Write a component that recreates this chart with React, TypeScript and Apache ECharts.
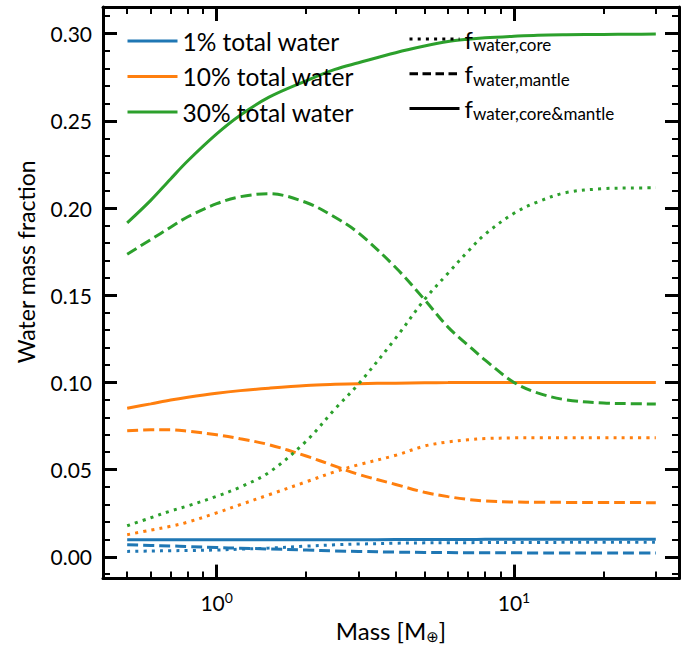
import React, { useEffect, useRef } from "react";
import * as echarts from "echarts";

// ---- data ----
const masses = [0.5, 0.6, 0.7, 0.8, 1, 1.2, 1.5, 2, 2.5, 3, 4, 5, 6, 7, 8, 10, 12, 15, 20, 25, 30];

const blueCore = [0.0031, 0.0033, 0.0035, 0.0036, 0.0039, 0.0044, 0.005, 0.0061, 0.0069, 0.0073, 0.0078, 0.008, 0.0081, 0.0081, 0.0082, 0.0082, 0.0082, 0.0083, 0.0083, 0.0083, 0.0083];
const blueMantle = [0.0069, 0.0065, 0.0062, 0.0059, 0.0053, 0.0049, 0.0045, 0.0039, 0.0034, 0.0031, 0.0027, 0.0025, 0.0024, 0.0023, 0.0023, 0.0023, 0.0022, 0.0022, 0.0022, 0.0022, 0.0022];
const blueTotal = [0.0098, 0.0098, 0.0098, 0.0098, 0.0098, 0.0098, 0.0098, 0.0098, 0.0098, 0.0098, 0.0099, 0.0099, 0.0099, 0.0099, 0.01, 0.01, 0.01, 0.0101, 0.0101, 0.0101, 0.0101];

const orangeCore = [0.0127, 0.0153, 0.0175, 0.0199, 0.0252, 0.0299, 0.0356, 0.043, 0.0488, 0.0528, 0.0582, 0.0635, 0.0659, 0.0671, 0.0678, 0.0682, 0.0683, 0.0683, 0.0683, 0.0683, 0.0683];
const orangeMantle = [0.0723, 0.0728, 0.0728, 0.072, 0.07, 0.0677, 0.0643, 0.0578, 0.052, 0.0473, 0.0415, 0.037, 0.0345, 0.0329, 0.032, 0.0314, 0.0313, 0.0312, 0.0311, 0.0311, 0.031];
const orangeTotal = [0.0852, 0.0877, 0.0899, 0.0915, 0.0938, 0.0953, 0.0967, 0.0982, 0.0989, 0.0993, 0.0996, 0.0998, 0.0999, 0.1, 0.1, 0.1, 0.1, 0.1, 0.1, 0.1, 0.1];

const greenCore = [0.0178, 0.0224, 0.0263, 0.0292, 0.0347, 0.04, 0.0484, 0.0663, 0.0848, 0.0991, 0.1254, 0.1475, 0.1626, 0.1751, 0.185, 0.197, 0.2035, 0.2089, 0.2111, 0.2115, 0.2116];
const greenMantle = [0.1735, 0.1819, 0.189, 0.195, 0.2025, 0.2065, 0.2082, 0.2032, 0.1947, 0.1857, 0.1659, 0.1475, 0.1317, 0.1214, 0.1128, 0.1, 0.094, 0.09, 0.0882, 0.0878, 0.0876];
const greenTotal = [0.1915, 0.2044, 0.2167, 0.2271, 0.2425, 0.2532, 0.2636, 0.273, 0.2795, 0.2833, 0.2891, 0.2929, 0.2955, 0.2968, 0.2976, 0.2985, 0.2991, 0.2994, 0.2996, 0.2997, 0.2998];

const totalNames = ["1% total water", "10% total water", "30% total water"];
const styleNames = ["f_core", "f_mantle", "f_total"];
const styleLabels = ["water,core", "water,mantle", "water,core&mantle"];

const xMajorTicks = [1, 10];
const xMinorTicks = [0.5, 0.6, 0.7, 0.8, 0.9, 2, 3, 4, 5, 6, 7, 8, 9, 20, 30];
const yMajorTicks = [0, 0.05, 0.1, 0.15, 0.2, 0.25, 0.3];
const yMinorTicks = [-0.01, 0.01, 0.02, 0.03, 0.04, 0.06, 0.07, 0.08, 0.09, 0.11, 0.12, 0.13, 0.14, 0.16, 0.17, 0.18, 0.19, 0.21, 0.22, 0.23, 0.24, 0.26, 0.27, 0.28, 0.29, 0.31];

const XMIN = 0.4146;
const XMAX = 35.9;
const YMIN = -0.0125;
const YMAX = 0.3153;

const COLORS = ["#1f77b4", "#ff7f0e", "#2ca02c"];
const FONT = "Lato, 'DejaVu Sans', sans-serif";
const DASHED = [11, 5];
const DOTTED = [3, 5.2];

export default function App() {
  const ref = useRef<HTMLDivElement>(null);

  useEffect(() => {
    if (!ref.current) return;
    const chart = echarts.init(ref.current, null, { renderer: "svg" });

    const pairs = (vals: number[]) => masses.map((m, i) => [m, vals[i]]);
    const groups = [
      [blueCore, blueMantle, blueTotal],
      [orangeCore, orangeMantle, orangeTotal],
      [greenCore, greenMantle, greenTotal],
    ];
    const series: any[] = [];
    groups.forEach((g, gi) => {
      const types = [DOTTED, DASHED, "solid"];
      g.forEach((vals, k) => {
        series.push({
          type: "line",
          name: k === 2 ? totalNames[gi] : `${totalNames[gi]} ${k === 0 ? "core" : "mantle"}`,
          data: pairs(vals),
          xAxisIndex: 0,
          yAxisIndex: 0,
          smooth: 0.35,
          symbol: "none",
          showSymbol: false,
          color: COLORS[gi],
          lineStyle: { color: COLORS[gi], width: 3, type: types[k], cap: "butt" },
          z: 3,
        });
      });
    });
    const blackTypes = [DOTTED, [8.5, 4.5], "solid"];
    styleNames.forEach((n, k) => {
      series.push({
        type: "line",
        name: n,
        data: [],
        xAxisIndex: 0,
        yAxisIndex: 0,
        symbol: "none",
        color: "#000",
        lineStyle: { color: "#000", width: 3, type: blackTypes[k], cap: "butt" },
      });
    });

    const xAx = (pos: string, ticks: number[], len: number, w: number, showLine: boolean, labels: boolean, name?: boolean) => ({
      type: "log",
      logBase: 10,
      min: XMIN,
      max: XMAX,
      position: pos,
      name: name ? "{a|Mass [M}{s|\u2295}{a|]}" : "",
      nameLocation: "middle",
      nameGap: 34,
      nameTextStyle: {
        color: "#000",
        rich: {
          a: { fontFamily: FONT, fontSize: 24, color: "#000", lineHeight: 28 },
          s: { fontFamily: "'DejaVu Sans', sans-serif", fontSize: 15, color: "#000", verticalAlign: "bottom", lineHeight: 16 },
        },
      },
      axisLine: { show: showLine, onZero: false, lineStyle: { color: "#000", width: 3 } },
      axisTick: { show: true, inside: true, length: len, customValues: ticks, lineStyle: { color: "#000", width: w } },
      axisLabel: labels
        ? {
            show: true,
            customValues: xMajorTicks,
            margin: 12,
            formatter: (v: number) => `{b|10}{s|${Math.round(Math.log10(v))}}`,
            rich: {
              b: { fontFamily: FONT, fontSize: 21, color: "#000", lineHeight: 24 },
              s: { fontFamily: FONT, fontSize: 14, color: "#000", verticalAlign: "top", lineHeight: 10 },
            },
          }
        : { show: false },
      splitLine: { show: false },
    });

    const yAx = (pos: string, ticks: number[], len: number, w: number, showLine: boolean, labels: boolean, name?: boolean) => ({
      type: "value",
      min: YMIN,
      max: YMAX,
      position: pos,
      name: name ? "Water mass fraction" : "",
      nameLocation: "middle",
      nameGap: 66,
      nameTextStyle: { fontFamily: FONT, fontSize: 23, color: "#000", padding: [0, 0, 0, 62] },
      axisLine: { show: showLine, onZero: false, lineStyle: { color: "#000", width: 3 } },
      axisTick: { show: true, inside: true, length: len, customValues: ticks, lineStyle: { color: "#000", width: w } },
      axisLabel: labels
        ? {
            show: true,
            customValues: yMajorTicks,
            margin: 11,
            fontFamily: FONT,
            fontSize: 21,
            color: "#000",
            formatter: (v: number) => v.toFixed(2),
          }
        : { show: false },
      splitLine: { show: false },
    });

    const option: any = {
      animation: false,
      backgroundColor: "#fff",
      grid: { left: 103, right: 2, top: 7, bottom: 69, containLabel: false },
      xAxis: [
        xAx("bottom", xMajorTicks, 14, 3, true, true, true),
        xAx("bottom", xMinorTicks, 7, 2, false, false),
        xAx("top", xMajorTicks, 14, 3, true, false),
        xAx("top", xMinorTicks, 7, 2, false, false),
      ],
      yAxis: [
        yAx("left", yMajorTicks, 14, 3, true, true, true),
        yAx("left", yMinorTicks, 7, 2, false, false),
        yAx("right", yMajorTicks, 14, 3, true, false),
        yAx("right", yMinorTicks, 7, 2, false, false),
      ],
      legend: [
        {
          data: totalNames,
          orient: "vertical",
          left: 126,
          top: 28,
          padding: 0,
          itemWidth: 50,
          itemHeight: 14,
          itemGap: 9.5,
          selectedMode: false,
          lineStyle: { width: 3 },
          itemStyle: { opacity: 0 },
          textStyle: { fontFamily: FONT, fontSize: 24.5, color: "#000", lineHeight: 26 },
        },
        {
          data: styleNames,
          orient: "vertical",
          left: 408,
          top: 27,
          padding: 0,
          itemWidth: 50,
          itemHeight: 14,
          itemGap: 8.7,
          selectedMode: false,
          lineStyle: { width: 3 },
          itemStyle: { opacity: 0 },
          formatter: (n: string) => `{f|f}{s|${styleLabels[styleNames.indexOf(n)]}}`,
          textStyle: {
            color: "#000",
            rich: {
              f: { fontFamily: FONT, fontSize: 24, color: "#000", lineHeight: 28 },
              s: { fontFamily: FONT, fontSize: 17, color: "#000", verticalAlign: "bottom", lineHeight: 13 },
            },
          },
        },
      ],
      series,
    };

    chart.setOption(option);
    return () => chart.dispose();
  }, []);

  return <div ref={ref} style={{ width: 681, height: 649, position: "absolute", left: 0, top: 0 }} />;
}
